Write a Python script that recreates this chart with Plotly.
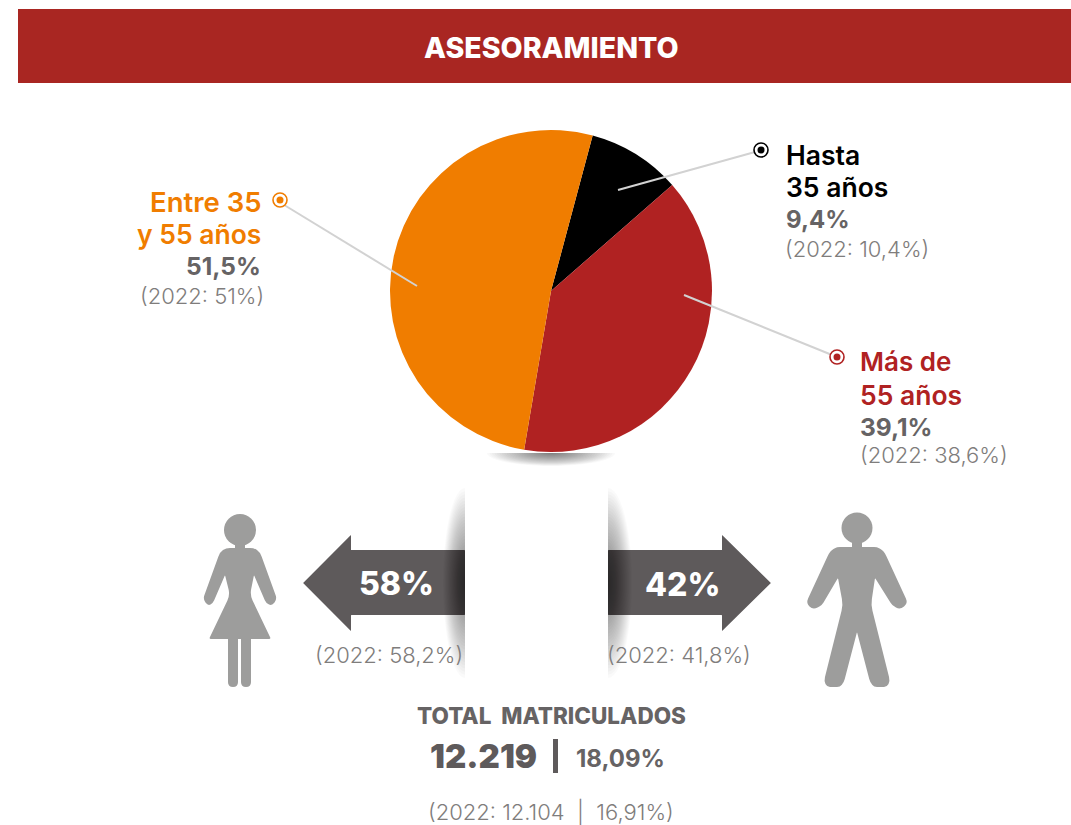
import math
import plotly.graph_objects as go

W, H = 1071, 825

title = "ASESORAMIENTO"
age_groups = ["Hasta 35 años", "Más de 55 años", "Entre 35 y 55 años"]
age_share = [9.4, 39.1, 51.5]
age_share_2022 = ["10,4%", "38,6%", "51%"]
age_colors = ["#000000", "#B02222", "#F07D00"]
women_share = "58%"
men_share = "42%"
women_2022 = "(2022: 58,2%)"
men_2022 = "(2022: 41,8%)"
total_label = "TOTAL  MATRICULADOS"
total_value = "12.219"
total_share = "18,09%"
total_2022 = "(2022: 12.104  |  16,91%)"

FONT = "Inter"
GREY_DARK = "#5E5A5B"
GREY_MID = "#666364"
GREY_LIGHT = "#7F7D7C"
ICON = "#9D9D9C"
ARROW = "#5E5A5B"


def px(x):
    return x / W


def py(y):
    return 1 - y / H


def pt(x, y):
    return f"{px(x):.5f},{py(y):.5f}"


def rounded(points, r=2.0):
    n = len(points)
    d = ""
    for i in range(n):
        p0, p1, p2 = points[i - 1], points[i], points[(i + 1) % n]
        rad = p1[2] if len(p1) > 2 else r
        a = math.hypot(p0[0] - p1[0], p0[1] - p1[1])
        b = math.hypot(p2[0] - p1[0], p2[1] - p1[1])
        ra = min(rad, a / 2) / a if a else 0
        rb = min(rad, b / 2) / b if b else 0
        s = (p1[0] + (p0[0] - p1[0]) * ra, p1[1] + (p0[1] - p1[1]) * ra)
        e = (p1[0] + (p2[0] - p1[0]) * rb, p1[1] + (p2[1] - p1[1]) * rb)
        d += ("M" if i == 0 else "L") + pt(*s) + " Q" + pt(p1[0], p1[1]) + " " + pt(*e) + " "
    return d + "Z"


shapes = []


def rect(x0, y0, x1, y1, color, opacity=1.0, layer="above"):
    shapes.append(dict(type="rect", xref="paper", yref="paper", x0=px(x0), x1=px(x1),
                       y0=py(y0), y1=py(y1), fillcolor=color, opacity=opacity,
                       line=dict(width=0), layer=layer))


def poly(points, color, r=2.0):
    shapes.append(dict(type="path", xref="paper", yref="paper", path=rounded(points, r),
                       fillcolor=color, line=dict(width=0), layer="above"))


def half_ellipse(cx, cy, rx, ry, a0, a1, opacity, layer="above"):
    parts = []
    for i in range(25):
        t = math.radians(a0 + (a1 - a0) * i / 24)
        parts.append(("M" if i == 0 else "L") + pt(cx + rx * math.cos(t), cy + ry * math.sin(t)))
    shapes.append(dict(type="path", xref="paper", yref="paper", path=" ".join(parts) + " Z",
                       fillcolor="#000000", opacity=opacity, line=dict(width=0), layer=layer))


def circle(cx, cy, r, fill, line_color=None, lw=0):
    shapes.append(dict(type="circle", xref="paper", yref="paper", x0=px(cx - r), x1=px(cx + r),
                       y0=py(cy - r), y1=py(cy + r), fillcolor=fill,
                       line=dict(width=lw, color=line_color or fill), layer="above"))


def leader(x0, y0, x1, y1):
    shapes.append(dict(type="line", xref="paper", yref="paper", x0=px(x0), y0=py(y0),
                       x1=px(x1), y1=py(y1), line=dict(color="#D2D2D2", width=2), layer="above"))


# header band
rect(18, 9, 1071, 83, "#A92622")

# shadow under the pie
for k in range(26):
    f = (k + 1) / 26
    half_ellipse(551, 453, 64 * f, 13 * f, 0, 180, 0.024, "below")

# arrows
poly([(303, 583), (351, 535), (351, 550), (465, 550), (465, 615), (351, 615), (351, 631)], ARROW, 0.5)
poly([(771, 583), (722, 631), (722, 615), (608, 615), (608, 550), (722, 550), (722, 535)], ARROW, 0.5)

# soft side shadows of the arrows
for k in range(30):
    f = (k + 1) / 30
    half_ellipse(465, 583, 22 * f, 95 * f, 90, 270, 0.02)
    half_ellipse(608, 583, 24 * f, 95 * f, -90, 90, 0.02)

# woman icon
circle(240, 530, 16, ICON)
rect(235, 543, 245, 550, ICON)
poly([(226, 548, 4), (254, 548, 4), (260, 552, 5), (277, 599, 4), (272, 606, 5), (266, 603, 3),
      (254, 575, 1), (250, 595, 6), (271, 639, 2), (209, 639, 2), (230, 595, 6), (225, 575, 1),
      (213, 603, 3), (208, 606, 5), (203, 599, 4), (220, 552, 5)], ICON)
poly([(228, 636), (238, 636), (238, 687, 5), (228, 687, 5)], ICON, 0.5)
poly([(241, 636), (251, 636), (251, 687, 5), (241, 687, 5)], ICON, 0.5)

# man icon
circle(857, 528, 15.5, ICON)
rect(852, 540, 862, 549, ICON)
poly([(837, 547, 3), (877, 547, 3), (884, 551, 6), (908, 603, 5), (900, 610, 6), (892, 605, 3),
      (875, 578, 1), (871, 605, 6), (890, 681, 4), (887, 687, 3), (874, 687, 3), (870, 682, 3),
      (857, 632, 1), (844, 682, 3), (840, 687, 3), (827, 687, 3), (824, 681, 4), (843, 605, 6),
      (838, 578, 1), (822, 605, 3), (813, 610, 6), (806, 603, 5), (830, 551, 6)], ICON)

# leader lines and ring markers
leader(618, 190, 755, 152)
leader(417, 286, 276, 200)
leader(684, 295, 837, 357)
for cx, cy, c in [(761, 150, age_colors[0]), (280, 200, age_colors[2]), (837, 357, age_colors[1])]:
    circle(cx, cy, 7, "#FFFFFF", c, 1.6)
    circle(cx, cy, 3.5, c)

annotations = []


def text(x, y, s, size, color, weight=400, anchor="left"):
    annotations.append(dict(xref="paper", yref="paper", x=px(x), y=py(y), text=s, showarrow=False,
                            xanchor=anchor, yanchor="middle", align=anchor,
                            font=dict(family=FONT, size=size, color=color, weight=weight),
                            borderpad=0, borderwidth=0))


def pct(v):
    return f"{v}%".replace(".", ",")


text(551, 47, title, 28.6, "#FFFFFF", 800, "center")

text(786, 155, "Hasta", 26.5, age_colors[0], 600)
text(786, 187, "35 años", 26.5, age_colors[0], 600)
text(786, 220, pct(age_share[0]), 24, GREY_MID, 700)
text(785, 249, f"(2022: {age_share_2022[0]})", 22, GREY_LIGHT, 300)

text(261, 202, "Entre 35", 27.5, age_colors[2], 600, "right")
text(261, 234, "y 55 años", 26.5, age_colors[2], 600, "right")
text(261, 266, pct(age_share[2]), 24.5, GREY_MID, 700, "right")
text(264, 296, f"(2022: {age_share_2022[2]})", 22, GREY_LIGHT, 300, "right")

text(860, 362, "Más de", 26, age_colors[1], 600)
text(860, 395, "55 años", 26.5, age_colors[1], 600)
text(860, 427, pct(age_share[1]), 24.5, GREY_MID, 700)
text(860, 455, f"(2022: {age_share_2022[1]})", 22, GREY_LIGHT, 300)

text(396, 583, women_share, 32, "#FFFFFF", 800, "center")
text(682, 584, men_share, 32, "#FFFFFF", 800, "center")
text(463, 655, women_2022, 22, GREY_LIGHT, 300, "right")
text(607, 655, men_2022, 22, GREY_LIGHT, 300)

text(551, 715, total_label, 22.5, GREY_MID, 800, "center")
text(537, 756, total_value, 33, GREY_DARK, 900, "right")
rect(553, 739, 558, 773, GREY_DARK)
text(576, 758, total_share, 24, GREY_MID, 700)
text(551, 811, total_2022, 22, GREY_LIGHT, 300, "center")

fig = go.Figure(go.Pie(
    labels=age_groups,
    values=age_share,
    marker=dict(colors=age_colors, line=dict(width=0)),
    sort=False,
    direction="clockwise",
    rotation=15,
    textinfo="none",
    hoverinfo="label+percent",
    showlegend=False,
    domain=dict(x=[px(390), px(712)], y=[py(452), py(130)]),
))

fig.update_layout(
    width=W, height=H, autosize=False,
    margin=dict(l=0, r=0, t=0, b=0),
    paper_bgcolor="#FFFFFF",
    shapes=shapes,
    annotations=annotations,
)

fig.write_html("out.html", config=dict(displayModeBar=False), default_width=f"{W}px", default_height=f"{H}px",
               post_script="document.body.style.margin='0';")
